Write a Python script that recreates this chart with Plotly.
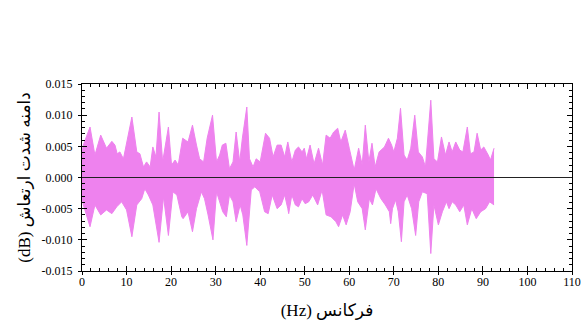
import plotly.graph_objects as go

# Upper envelope of the vibration signal (frequency in Hz, amplitude)
upper_freq = [0.0, 0.3, 1.8, 2.9, 4.2, 5.5, 6.7, 7.4, 7.9, 8.5, 9.3, 11.2, 12.3, 13.0, 13.8, 14.5,
              15.3, 15.9, 16.6, 17.3, 18.1, 19.4, 20.1, 20.9, 21.6, 22.6, 23.8, 24.8, 25.7, 26.4,
              27.3, 28.1, 29.3, 30.2, 30.9, 31.5, 32.3, 33.1, 33.9, 34.6, 35.4, 36.0, 37.0, 37.6,
              38.4, 39.1, 40.0, 41.2, 42.1, 42.9, 43.8, 44.7, 45.5, 46.2, 47.1, 47.9, 48.6, 49.4,
              49.9, 50.4, 51.2, 52.1, 53.1, 54.0, 54.8, 55.7, 56.5, 57.4, 58.1, 59.1, 60.0, 61.1,
              62.1, 62.9, 63.6, 64.4, 65.1, 65.8, 66.7, 67.9, 68.8, 69.5, 70.0, 70.8, 71.5, 72.3,
              73.0, 73.8, 74.7, 75.5, 76.4, 77.1, 78.3, 79.0, 79.8, 80.7, 81.6, 82.4, 83.1, 83.9,
              84.8, 85.5, 86.5, 87.2, 88.0, 88.7, 89.5, 90.2, 91.2, 91.7, 92.5]
upper_amp = [0.0040, 0.0052, 0.0081, 0.0036, 0.0068, 0.0047, 0.0058, 0.0052, 0.0038, 0.0041, 0.0030,
             0.0097, 0.0041, 0.0038, 0.0017, 0.0025, 0.0017, 0.0049, 0.0033, 0.0105, 0.0025, 0.0081,
             0.0020, 0.0028, 0.0020, 0.0063, 0.0057, 0.0084, 0.0052, 0.0030, 0.0025, 0.0063, 0.0100,
             0.0025, 0.0036, 0.0052, 0.0055, 0.0014, 0.0025, 0.0073, 0.0025, 0.0063, 0.0113, 0.0030,
             0.0017, 0.0030, 0.0025, 0.0071, 0.0063, 0.0033, 0.0052, 0.0052, 0.0033, 0.0057, 0.0025,
             0.0044, 0.0049, 0.0041, 0.0047, 0.0030, 0.0052, 0.0022, 0.0047, 0.0020, 0.0068, 0.0063,
             0.0073, 0.0079, 0.0057, 0.0076, 0.0047, 0.0012, 0.0047, 0.0020, 0.0084, 0.0025, 0.0055,
             0.0017, 0.0041, 0.0049, 0.0063, 0.0052, 0.0041, 0.0063, 0.0111, 0.0036, 0.0028, 0.0047,
             0.0100, 0.0041, 0.0033, 0.0017, 0.0124, 0.0030, 0.0025, 0.0065, 0.0036, 0.0057, 0.0041,
             0.0057, 0.0044, 0.0041, 0.0081, 0.0038, 0.0041, 0.0071, 0.0044, 0.0049, 0.0036, 0.0028,
             0.0047]

# Lower envelope
lower_freq = [0.0, 0.3, 1.8, 2.9, 4.2, 5.5, 6.7, 7.8, 8.9, 10.0, 11.2, 12.3, 13.4, 14.1, 14.9, 15.9,
              17.3, 18.3, 19.4, 20.4, 21.3, 22.4, 22.7, 23.8, 24.8, 25.7, 26.8, 27.5, 28.3, 29.4,
              30.2, 30.9, 31.6, 32.4, 33.1, 33.9, 34.6, 35.5, 36.1, 37.0, 38.0, 38.8, 39.9, 41.0,
              41.8, 42.7, 43.8, 44.7, 45.5, 46.2, 46.4, 47.1, 47.9, 48.6, 49.4, 50.1, 50.9, 51.8,
              52.9, 53.9, 54.8, 55.9, 57.0, 57.6, 58.5, 59.3, 60.2, 61.1, 61.9, 62.9, 63.6, 64.5,
              65.2, 66.0, 67.1, 68.1, 69.0, 69.3, 69.7, 70.4, 71.0, 71.7, 72.3, 73.0, 74.0, 74.9,
              75.6, 76.4, 77.5, 78.3, 79.0, 80.0, 80.9, 81.8, 82.4, 83.1, 83.9, 84.8, 85.7, 86.5,
              87.5, 88.5, 89.5, 90.6, 91.5, 92.5]
lower_amp = [-0.0030, -0.0044, -0.0079, -0.0044, -0.0060, -0.0052, -0.0058, -0.0047, -0.0039, -0.0052,
             -0.0095, -0.0044, -0.0034, -0.0018, -0.0028, -0.0044, -0.0104, -0.0031, -0.0093, -0.0023,
             -0.0028, -0.0063, -0.0066, -0.0055, -0.0087, -0.0050, -0.0023, -0.0034, -0.0060, -0.0100,
             -0.0023, -0.0039, -0.0055, -0.0063, -0.0028, -0.0039, -0.0071, -0.0044, -0.0060, -0.0109,
             -0.0020, -0.0015, -0.0023, -0.0055, -0.0058, -0.0028, -0.0050, -0.0044, -0.0028, -0.0050,
             -0.0058, -0.0028, -0.0044, -0.0047, -0.0034, -0.0042, -0.0039, -0.0028, -0.0044, -0.0020,
             -0.0060, -0.0063, -0.0071, -0.0079, -0.0060, -0.0076, -0.0055, -0.0010, -0.0039, -0.0050,
             -0.0084, -0.0034, -0.0044, -0.0018, -0.0034, -0.0044, -0.0055, -0.0074, -0.0050, -0.0036,
             -0.0055, -0.0103, -0.0039, -0.0028, -0.0050, -0.0093, -0.0039, -0.0023, -0.0026, -0.0122,
             -0.0044, -0.0076, -0.0055, -0.0039, -0.0050, -0.0039, -0.0044, -0.0055, -0.0044, -0.0076,
             -0.0050, -0.0066, -0.0055, -0.0050, -0.0039, -0.0044]

x_ticks = [0, 10, 20, 30, 40, 50, 60, 70, 80, 90, 100, 110]
y_ticks = [-0.015, -0.010, -0.005, 0.000, 0.005, 0.010, 0.015]
y_tick_text = ["-0.015", "-0.010", "-0.005", "0.000", "0.005", "0.010", "0.015"]

x_title = "(Hz) فرکانس"
y_title = "(dB) دامنه شدت ارتعاش"

FILL = "#EE82EE"
FONT = "Liberation Serif, 'Times New Roman', DejaVu Sans, serif"

fig = go.Figure()
fig.add_trace(go.Scatter(x=upper_freq, y=upper_amp, mode="lines", fill="tozeroy",
                         line=dict(color=FILL, width=1), fillcolor=FILL, hoverinfo="skip"))
fig.add_trace(go.Scatter(x=lower_freq, y=lower_amp, mode="lines", fill="tozeroy",
                         line=dict(color=FILL, width=1), fillcolor=FILL, hoverinfo="skip"))

fig.add_hline(y=0, line=dict(color="#222222", width=1), layer="above")

axis_common = dict(
    showline=True, linecolor="black", linewidth=1, mirror="ticks",
    ticks="inside", ticklen=5, tickcolor="black", tickwidth=1,
    showgrid=False, zeroline=False, layer="above traces",
    tickfont=dict(family=FONT, size=12, color="black"),
    ticklabeloverflow="allow",
)

fig.update_xaxes(
    range=[0, 110], tickvals=x_ticks,
    minor=dict(dtick=2, ticks="inside", ticklen=3, tickcolor="black", showgrid=False),
    title=dict(text=x_title, font=dict(family=FONT, size=17, color="black"), standoff=15),
    **axis_common,
)
fig.update_yaxes(
    range=[-0.015, 0.015], tickvals=y_ticks, ticktext=y_tick_text,
    minor=dict(dtick=0.001, ticks="inside", ticklen=3, tickcolor="black", showgrid=False),
    ticklabelstandoff=6,
    title=dict(text=y_title, font=dict(family=FONT, size=17, color="black"), standoff=6),
    **axis_common,
)

# overlay axes that add the outer half of the crossing major ticks
fig.update_layout(
    xaxis2=dict(overlaying="x", anchor="y", side="bottom", range=[0, 110], tickvals=x_ticks,
                ticks="outside", ticklen=3, tickcolor="black", showticklabels=False,
                showline=False, showgrid=False, zeroline=False),
    yaxis2=dict(overlaying="y", anchor="x", side="left", range=[-0.015, 0.015], tickvals=y_ticks,
                ticks="outside", ticklen=3, tickcolor="black", showticklabels=False,
                showline=False, showgrid=False, zeroline=False),
)
fig.add_trace(go.Scatter(x=[], y=[], xaxis="x2", yaxis="y2", showlegend=False, hoverinfo="skip"))

fig.update_layout(
    width=583, height=324,
    margin=dict(l=82, r=11, t=84, b=53, autoexpand=False),
    paper_bgcolor="white", plot_bgcolor="white",
    showlegend=False,
)

fig.write_html(
    "out.html",
    config={"displayModeBar": False},
    post_script="document.body.style.margin='0';document.body.style.overflow='hidden';",
)
